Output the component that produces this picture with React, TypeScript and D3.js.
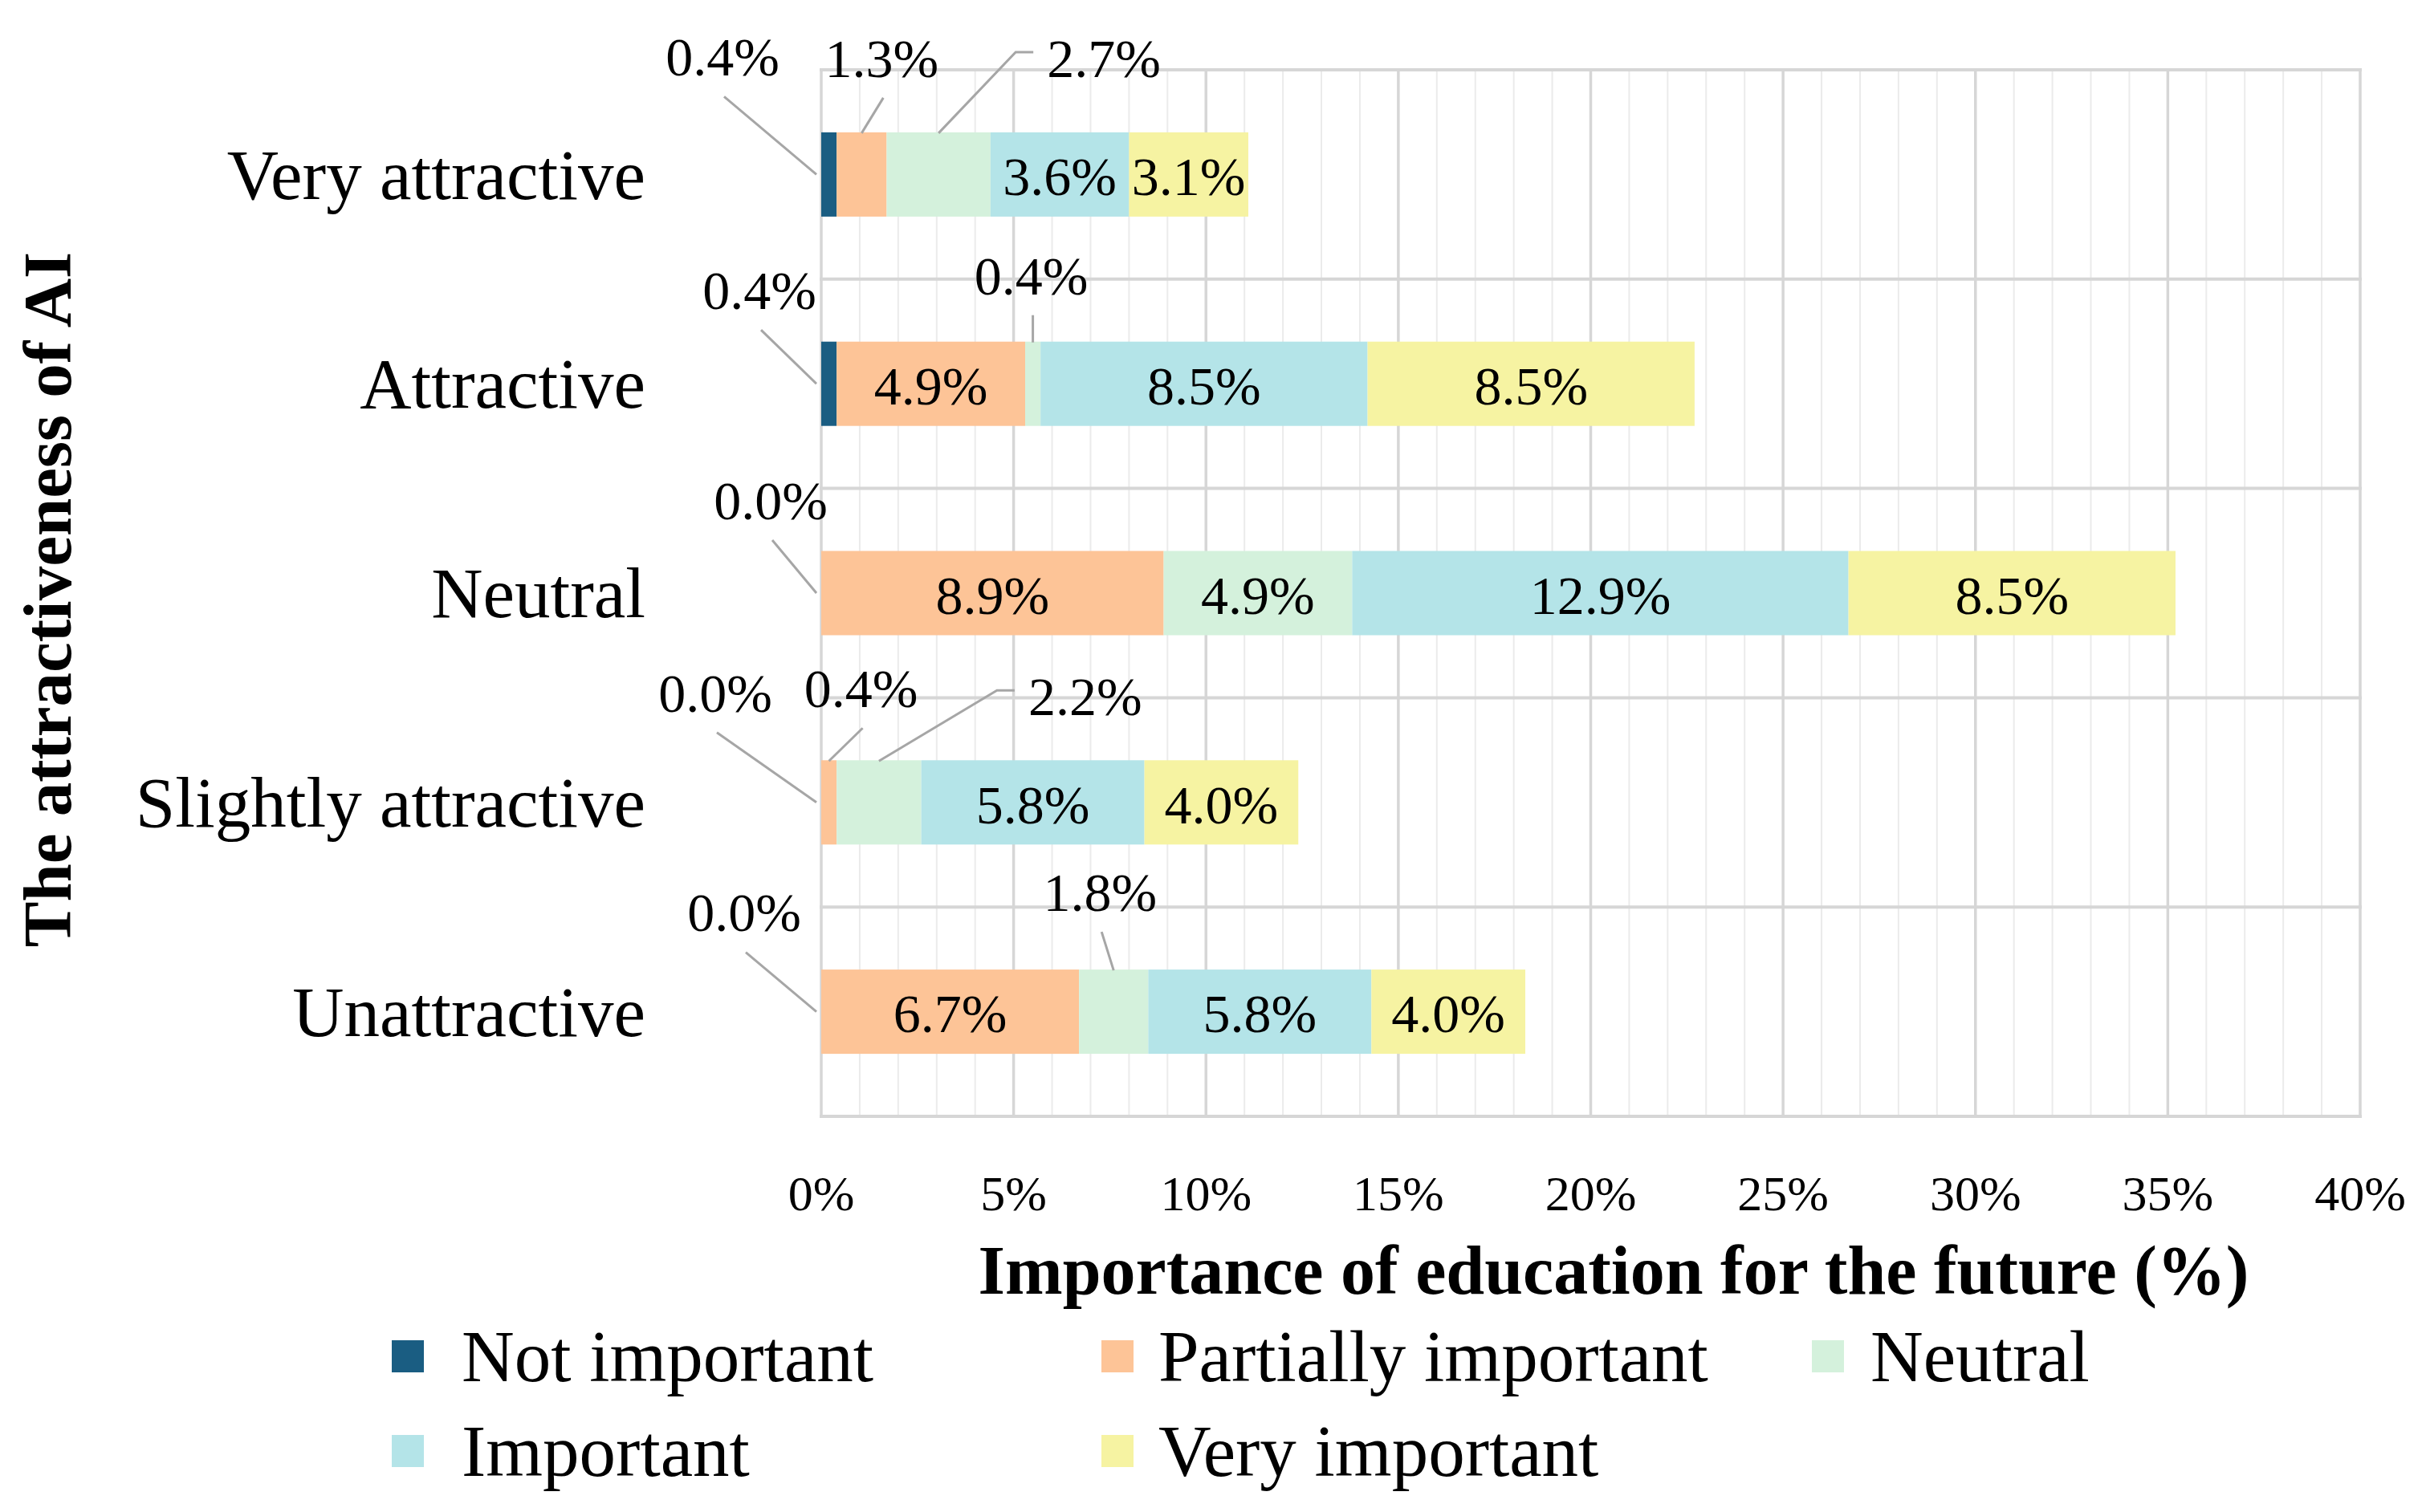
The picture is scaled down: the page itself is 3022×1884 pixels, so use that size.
import React, { useEffect, useRef } from 'react';
import * as d3 from 'd3';

// Data
const categories = ['Very attractive', 'Attractive', 'Neutral', 'Slightly attractive', 'Unattractive'];
const seriesNames = ['Not important', 'Partially important', 'Neutral', 'Important', 'Very important'];
const notImportant = [0.4, 0.4, 0.0, 0.0, 0.0];
const partiallyImportant = [1.3, 4.9, 8.9, 0.4, 6.7];
const neutral = [2.7, 0.4, 4.9, 2.2, 1.8];
const important = [3.6, 8.5, 12.9, 5.8, 5.8];
const veryImportant = [3.1, 8.5, 8.5, 4.0, 4.0];
const xTicks = [0, 5, 10, 15, 20, 25, 30, 35, 40];
const seriesColors = ['#1a5d82', '#fdc497', '#d4f1dc', '#b4e4e8', '#f6f3a2'];

// Labels that sit outside the bar with a leader line (category index, series index)
type Callout = { cat: number; s: number; anchor: 'left' | 'top'; dx: number; dy: number; elbow?: boolean };
const callouts: Callout[] = [
  { cat: 0, s: 0, anchor: 'left', dx: -117, dy: -147 },
  { cat: 0, s: 1, anchor: 'top', dx: 25, dy: -94 },
  { cat: 0, s: 2, anchor: 'top', dx: 206, dy: -94, elbow: true },
  { cat: 1, s: 0, anchor: 'left', dx: -71, dy: -117 },
  { cat: 1, s: 2, anchor: 'top', dx: -2, dy: -84 },
  { cat: 2, s: 0, anchor: 'left', dx: -57, dy: -116 },
  { cat: 3, s: 0, anchor: 'left', dx: -126, dy: -137 },
  { cat: 3, s: 1, anchor: 'top', dx: 40, dy: -91 },
  { cat: 3, s: 2, anchor: 'top', dx: 257, dy: -81, elbow: true },
  { cat: 4, s: 0, anchor: 'left', dx: -90, dy: -124 },
  { cat: 4, s: 2, anchor: 'top', dx: -17, dy: -98 },
];

const W = 3022;
const H = 1884;
const FONT = '"Liberation Serif", "Times New Roman", serif';

const App: React.FC = () => {
  const svgRef = useRef<SVGSVGElement>(null);

  useEffect(() => {
    if (!svgRef.current) return;
    const svg = d3.select(svgRef.current);
    svg.selectAll('*').remove();

    const left = 1023, right = 2940, top = 87, bottom = 1391;
    const barH = 105;

    const x = d3.scaleLinear().domain([0, 40]).range([left, right]);
    const y = d3.scaleBand().domain(categories).range([top, bottom]).padding(0);

    const values = [notImportant, partiallyImportant, neutral, important, veryImportant];
    const table = categories.map((c, i) => {
      const row: any = { category: c };
      seriesNames.forEach((s, j) => { row[s] = values[j][i]; });
      return row;
    });
    const stacked = d3.stack<any>().keys(seriesNames)(table);

    // Grid
    const grid = svg.append('g');
    const minor = d3.range(0, 41).filter(v => v % 5 !== 0);
    grid.selectAll('.minor').data(minor).join('line')
      .attr('x1', d => x(d)).attr('x2', d => x(d))
      .attr('y1', top).attr('y2', bottom)
      .attr('stroke', '#ebebeb').attr('stroke-width', 2);
    grid.selectAll('.major').data(xTicks).join('line')
      .attr('x1', d => x(d)).attr('x2', d => x(d))
      .attr('y1', top).attr('y2', bottom)
      .attr('stroke', '#d6d6d6').attr('stroke-width', 3.5);
    const hLines = categories.map(c => y(c)!).concat([bottom]);
    grid.selectAll('.hline').data(hLines).join('line')
      .attr('x1', left - 2).attr('x2', right + 2)
      .attr('y1', d => d).attr('y2', d => d)
      .attr('stroke', '#d6d6d6').attr('stroke-width', 4);

    const barTop = (c: string) => y(c)! + (y.bandwidth() - barH) / 2;

    // Bars
    svg.append('g').selectAll('g').data(stacked).join('g')
      .attr('fill', (_, i) => seriesColors[i])
      .selectAll('rect').data(d => d).join('rect')
      .attr('x', d => x(d[0]))
      .attr('width', d => x(d[1]) - x(d[0]))
      .attr('y', d => barTop(d.data.category))
      .attr('height', barH);

    // Inside labels
    const isCallout = (ci: number, si: number) => callouts.some(c => c.cat === ci && c.s === si);
    const inside: { x: number; y: number; t: string }[] = [];
    stacked.forEach((series, si) => {
      series.forEach((seg, ci) => {
        const v = values[si][ci];
        if (isCallout(ci, si) || v <= 0) return;
        inside.push({
          x: x((seg[0] + seg[1]) / 2),
          y: barTop(categories[ci]) + barH / 2,
          t: `${v.toFixed(1)}%`,
        });
      });
    });
    svg.append('g').selectAll('text').data(inside).join('text')
      .attr('x', d => d.x).attr('y', d => d.y).attr('dy', '0.38em')
      .attr('text-anchor', 'middle')
      .style('font-family', FONT).style('font-size', '68px').attr('fill', '#000')
      .text(d => d.t);

    // Callout labels with leader lines
    const cg = svg.append('g');
    callouts.forEach(c => {
      const seg = stacked[c.s][c.cat];
      const bt = barTop(categories[c.cat]);
      const ax = c.anchor === 'left' ? x(0) - 6 : x((seg[0] + seg[1]) / 2);
      const ay = c.anchor === 'left' ? bt + barH / 2 : bt + 1;
      const lx = ax + c.dx;
      const ly = ay + c.dy;
      let pts: [number, number][];
      if (c.elbow) {
        pts = [[lx - 88, ly - 7], [lx - 110, ly - 7], [ax, ay]];
      } else {
        pts = [[lx + 2, ly + 50], [ax, ay]];
      }
      cg.append('path')
        .attr('d', d3.line()(pts))
        .attr('fill', 'none').attr('stroke', '#a6a6a6').attr('stroke-width', 3);
      cg.append('text')
        .attr('x', lx).attr('y', ly).attr('dy', '0.35em')
        .attr('text-anchor', 'middle')
        .style('font-family', FONT).style('font-size', '68px').attr('fill', '#000')
        .text(`${values[c.s][c.cat].toFixed(1)}%`);
    });

    // Category labels
    svg.append('g').selectAll('text').data(categories).join('text')
      .attr('x', 804)
      .attr('y', d => y(d)! + y.bandwidth() / 2)
      .attr('dy', '0.34em')
      .attr('text-anchor', 'end')
      .style('font-family', FONT).style('font-size', '89px').attr('fill', '#000')
      .text(d => d);

    // X tick labels
    svg.append('g').selectAll('text').data(xTicks).join('text')
      .attr('x', d => x(d)).attr('y', 1508)
      .attr('text-anchor', 'middle')
      .style('font-family', FONT).style('font-size', '62px').attr('fill', '#000')
      .text(d => `${d}%`);

    // Axis titles
    svg.append('text')
      .attr('x', 2010).attr('y', 1612)
      .attr('text-anchor', 'middle')
      .style('font-family', FONT).style('font-size', '86px').style('font-weight', 'bold')
      .text('Importance of education for the future (%)');
    svg.append('text')
      .attr('transform', 'translate(88, 747) rotate(-90)')
      .attr('text-anchor', 'middle')
      .style('font-family', FONT).style('font-size', '85px').style('font-weight', 'bold')
      .text('The attractiveness of AI');

    // Legend
    const colX = [488, 1372, 2257];
    const textX = [575, 1443, 2330];
    const rowY = [1690, 1808];
    const legend = svg.append('g').selectAll('g').data(seriesNames).join('g')
      .attr('transform', (_, i) => `translate(0, ${rowY[Math.floor(i / 3)]})`);
    legend.append('rect')
      .attr('x', (_, i) => colX[i % 3]).attr('y', -20).attr('width', 40).attr('height', 40)
      .attr('fill', (_, i) => seriesColors[i]);
    legend.append('text')
      .attr('x', (_, i) => textX[i % 3]).attr('y', 0).attr('dy', '0.34em')
      .style('font-family', FONT).style('font-size', '91px').attr('fill', '#000')
      .text(d => d);
  }, []);

  return (
    <svg
      ref={svgRef}
      width={W}
      height={H}
      style={{ position: 'absolute', left: 0, top: 0, background: '#fff' }}
    />
  );
};

export default App;
